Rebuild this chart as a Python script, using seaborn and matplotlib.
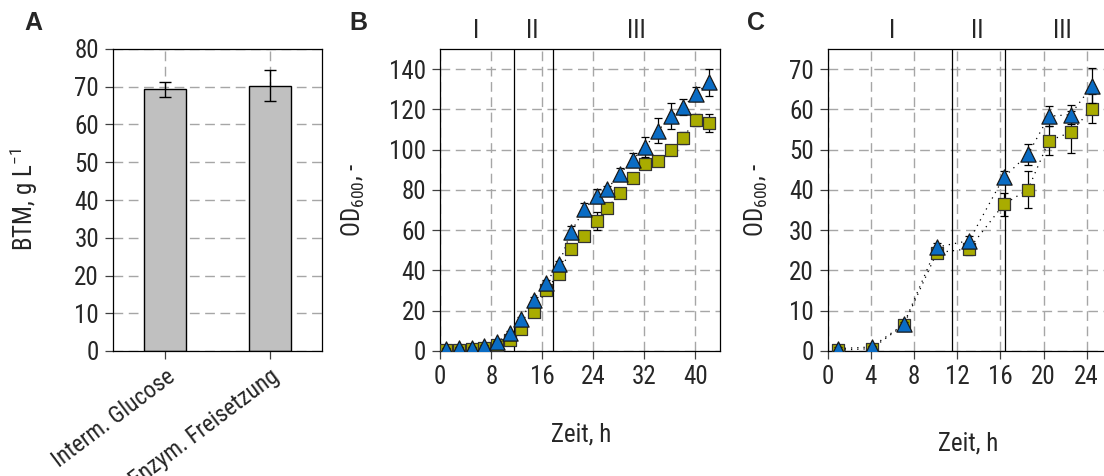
import numpy as np
import pandas as pd
import matplotlib
matplotlib.use("Agg")
import matplotlib.pyplot as plt
import matplotlib.transforms as mtransforms
from matplotlib import font_manager
import seaborn as sns

# ---------------- data ----------------
bar_categories = ["Interm. Glucose", "Enzym. Freisetzung"]
bar_values = [69.3, 70.3]
bar_errors = [1.9, 4.1]

b_time = [0.9, 2.9, 4.9, 6.9, 8.9, 10.9, 12.6, 14.7, 16.6, 18.6, 20.5,
          22.6, 24.6, 26.2, 28.2, 30.2, 32.2, 34.2, 36.2, 38.1, 40.1, 42.1]
b_tri = [1.0, 1.5, 1.7, 2.3, 4.5, 9.0, 16.0, 25.5, 34.0, 43.0, 59.0,
         70.5, 77.0, 80.5, 88.0, 95.0, 101.5, 109.5, 116.7, 121.3, 127.6, 133.4]
b_tri_err = [0.5, 0.5, 0.5, 0.6, 0.7, 0.8, 1.0, 1.2, 1.5, 1.5, 3.0,
             3.0, 3.5, 1.5, 3.0, 3.5, 5.0, 6.0, 6.5, 4.0, 3.5, 6.5]
b_sq = [0.3, 0.7, 1.0, 1.5, 2.8, 5.3, 10.7, 19.3, 30.4, 38.3, 50.7,
        57.0, 64.5, 71.0, 78.5, 86.0, 93.0, 94.4, 100.0, 106.0, 114.7, 113.2]
b_sq_err = [0.3, 0.3, 0.3, 0.4, 0.5, 0.6, 1.0, 1.2, 1.0, 1.2, 1.5,
            1.5, 4.5, 1.5, 1.5, 1.5, 2.0, 1.5, 1.5, 3.0, 3.0, 4.5]

c_time = [1.0, 4.07, 7.04, 10.1, 13.1, 16.3, 18.55, 20.5, 22.5, 24.5]
c_tri = [0.6, 1.0, 6.6, 25.8, 27.4, 43.1, 48.8, 58.3, 58.7, 65.9]
c_tri_err = [0.3, 0.3, 0.5, 1.0, 1.2, 1.5, 2.5, 2.5, 2.4, 4.3]
c_sq = [0.2, 0.6, 6.4, 24.4, 25.4, 36.4, 40.1, 52.2, 54.3, 60.2]
c_sq_err = [0.3, 0.3, 0.5, 1.0, 1.6, 2.9, 4.5, 3.6, 5.2, 3.7]

phase_labels = ["I", "II", "III"]
b_phase_bounds = [11.5, 17.7]
b_phase_pos = [5.6, 14.5, 30.7]
c_phase_bounds = [11.5, 16.46]
c_phase_pos = [6.0, 13.9, 21.7]

# ---------------- style ----------------
sns.set_style("white")
available = {f.name for f in font_manager.fontManager.ttflist}
candidates = ["Liberation Sans Narrow", "Arial Narrow", "Roboto Condensed",
              "Open Sans Condensed", "Noto Sans Condensed", "DejaVu Sans Condensed"]
FONT = [c for c in candidates if c in available] + ["Liberation Sans", "DejaVu Sans"]
plt.rcParams["font.family"] = FONT
plt.rcParams["mathtext.default"] = "regular"
plt.rcParams["font.size"] = 18

BLUE = "#0A6CC4"
OLIVE = "#A9AC00"
GRID = "#A6A6A6"
GRAY_BAR = "#C0C0C0"

fig = plt.figure(figsize=(11.04, 4.76), dpi=100)
W, H = 1104, 476


def add_axes(left, right, top, bottom):
    return fig.add_axes([left / W, 1 - bottom / H, (right - left) / W, (bottom - top) / H])


def style_axes(ax, vgrid=True):
    for s in ax.spines.values():
        s.set_color("black")
        s.set_linewidth(0.9)
    ax.tick_params(axis="both", direction="out", length=6, width=0.9,
                   color="#404040", labelsize=18, pad=4)
    ax.tick_params(axis="x", top=False, bottom=True)
    ax.tick_params(axis="y", right=False, left=True)
    ax.yaxis.grid(True, color=GRID, linestyle=(0, (7, 4)), linewidth=1.0)
    ax.xaxis.grid(vgrid, color=GRID, linestyle=(0, (7, 4)), linewidth=1.0)
    ax.set_axisbelow(True)


# ---------------- panel A ----------------
axA = add_axes(113, 322, 49, 351)
dfA = pd.DataFrame({"cat": bar_categories, "val": bar_values})
sns.barplot(data=dfA, x="cat", y="val", ax=axA, color=GRAY_BAR, width=0.4,
            edgecolor="black", linewidth=1.0, errorbar=None, saturation=1)
axA.errorbar(x=np.arange(len(bar_values)), y=bar_values, yerr=bar_errors,
             fmt="none", ecolor="black", elinewidth=1.0, capsize=4, capthick=1.0)
axA.set_xlim(-0.5, 1.5)
axA.set_ylim(0, 80)
axA.set_yticks(np.arange(0, 81, 10))
style_axes(axA, vgrid=False)
axA.set_xticks(range(len(bar_categories)))
axA.set_xticklabels(bar_categories, rotation=37, ha="right",
                    rotation_mode="anchor", fontsize=17)
axA.set_xlabel("")
axA.set_ylabel("BTM, g L$^{-1}$", fontsize=18)
axA.yaxis.set_label_coords(-0.35, 0.5)


# ---------------- time-course panels ----------------
def time_panel(ax, t, tri, tri_err, sq, sq_err, bounds, pos, xlim, xticks, ylim, yticks):
    df = pd.DataFrame({"t": t, "tri": tri, "sq": sq})
    dot = (0, (1, 4))
    sns.lineplot(data=df, x="t", y="sq", ax=ax, color="black", linestyle=dot,
                 linewidth=0.9, zorder=2)
    sns.lineplot(data=df, x="t", y="tri", ax=ax, color="black", linestyle=dot,
                 linewidth=0.9, zorder=2)
    ax.errorbar(t, sq, yerr=sq_err, fmt="none", ecolor="black", elinewidth=0.9,
                capsize=3, capthick=0.9, zorder=3)
    sns.scatterplot(data=df, x="t", y="sq", ax=ax, marker="s", s=80, color=OLIVE,
                    edgecolor="#333333", linewidth=0.9, zorder=4)
    ax.errorbar(t, tri, yerr=tri_err, fmt="none", ecolor="black", elinewidth=0.9,
                capsize=3, capthick=0.9, zorder=5)
    sns.scatterplot(data=df, x="t", y="tri", ax=ax, marker="^", s=120, color=BLUE,
                    edgecolor="#1a1a1a", linewidth=0.9, zorder=6)
    for b in bounds:
        ax.axvline(b, color="black", linewidth=0.9, zorder=1)
    trans = mtransforms.blended_transform_factory(ax.transData, ax.transAxes)
    for lab, p in zip(phase_labels, pos):
        ax.text(p, 1.06, lab, transform=trans, ha="center", va="center", fontsize=18)
    ax.set_xlim(*xlim)
    ax.set_ylim(*ylim)
    ax.set_xticks(xticks)
    ax.set_yticks(yticks)
    style_axes(ax)
    ax.set_ylabel("OD$_{600}$, -", fontsize=18)
    ax.set_xlabel("Zeit, h", fontsize=18)


axB = add_axes(440.3, 720, 49, 351)
time_panel(axB, b_time, b_tri, b_tri_err, b_sq, b_sq_err, b_phase_bounds, b_phase_pos,
           (0, 43.9), np.arange(0, 41, 8), (0, 150), np.arange(0, 141, 20))
axB.yaxis.set_label_coords(-0.262, 0.5)
axB.xaxis.set_label_coords(0.502, -0.238)

axC = add_axes(827.7, 1104, 49, 351)
time_panel(axC, c_time, c_tri, c_tri_err, c_sq, c_sq_err, c_phase_bounds, c_phase_pos,
           (0, 25.6), np.arange(0, 25, 4), (0, 75), np.arange(0, 71, 10))
axC.spines["right"].set_visible(False)
axC.yaxis.set_label_coords(-0.209, 0.5)
axC.xaxis.set_label_coords(0.507, -0.265)

for lab, x in zip(["A", "B", "C"], [33, 358, 756]):
    fig.text(x / W, 1 - 23 / H, lab, ha="center", va="center", fontsize=18,
             fontweight="bold", family=["Liberation Sans", "DejaVu Sans"])

fig.savefig("out.png", dpi=100)
